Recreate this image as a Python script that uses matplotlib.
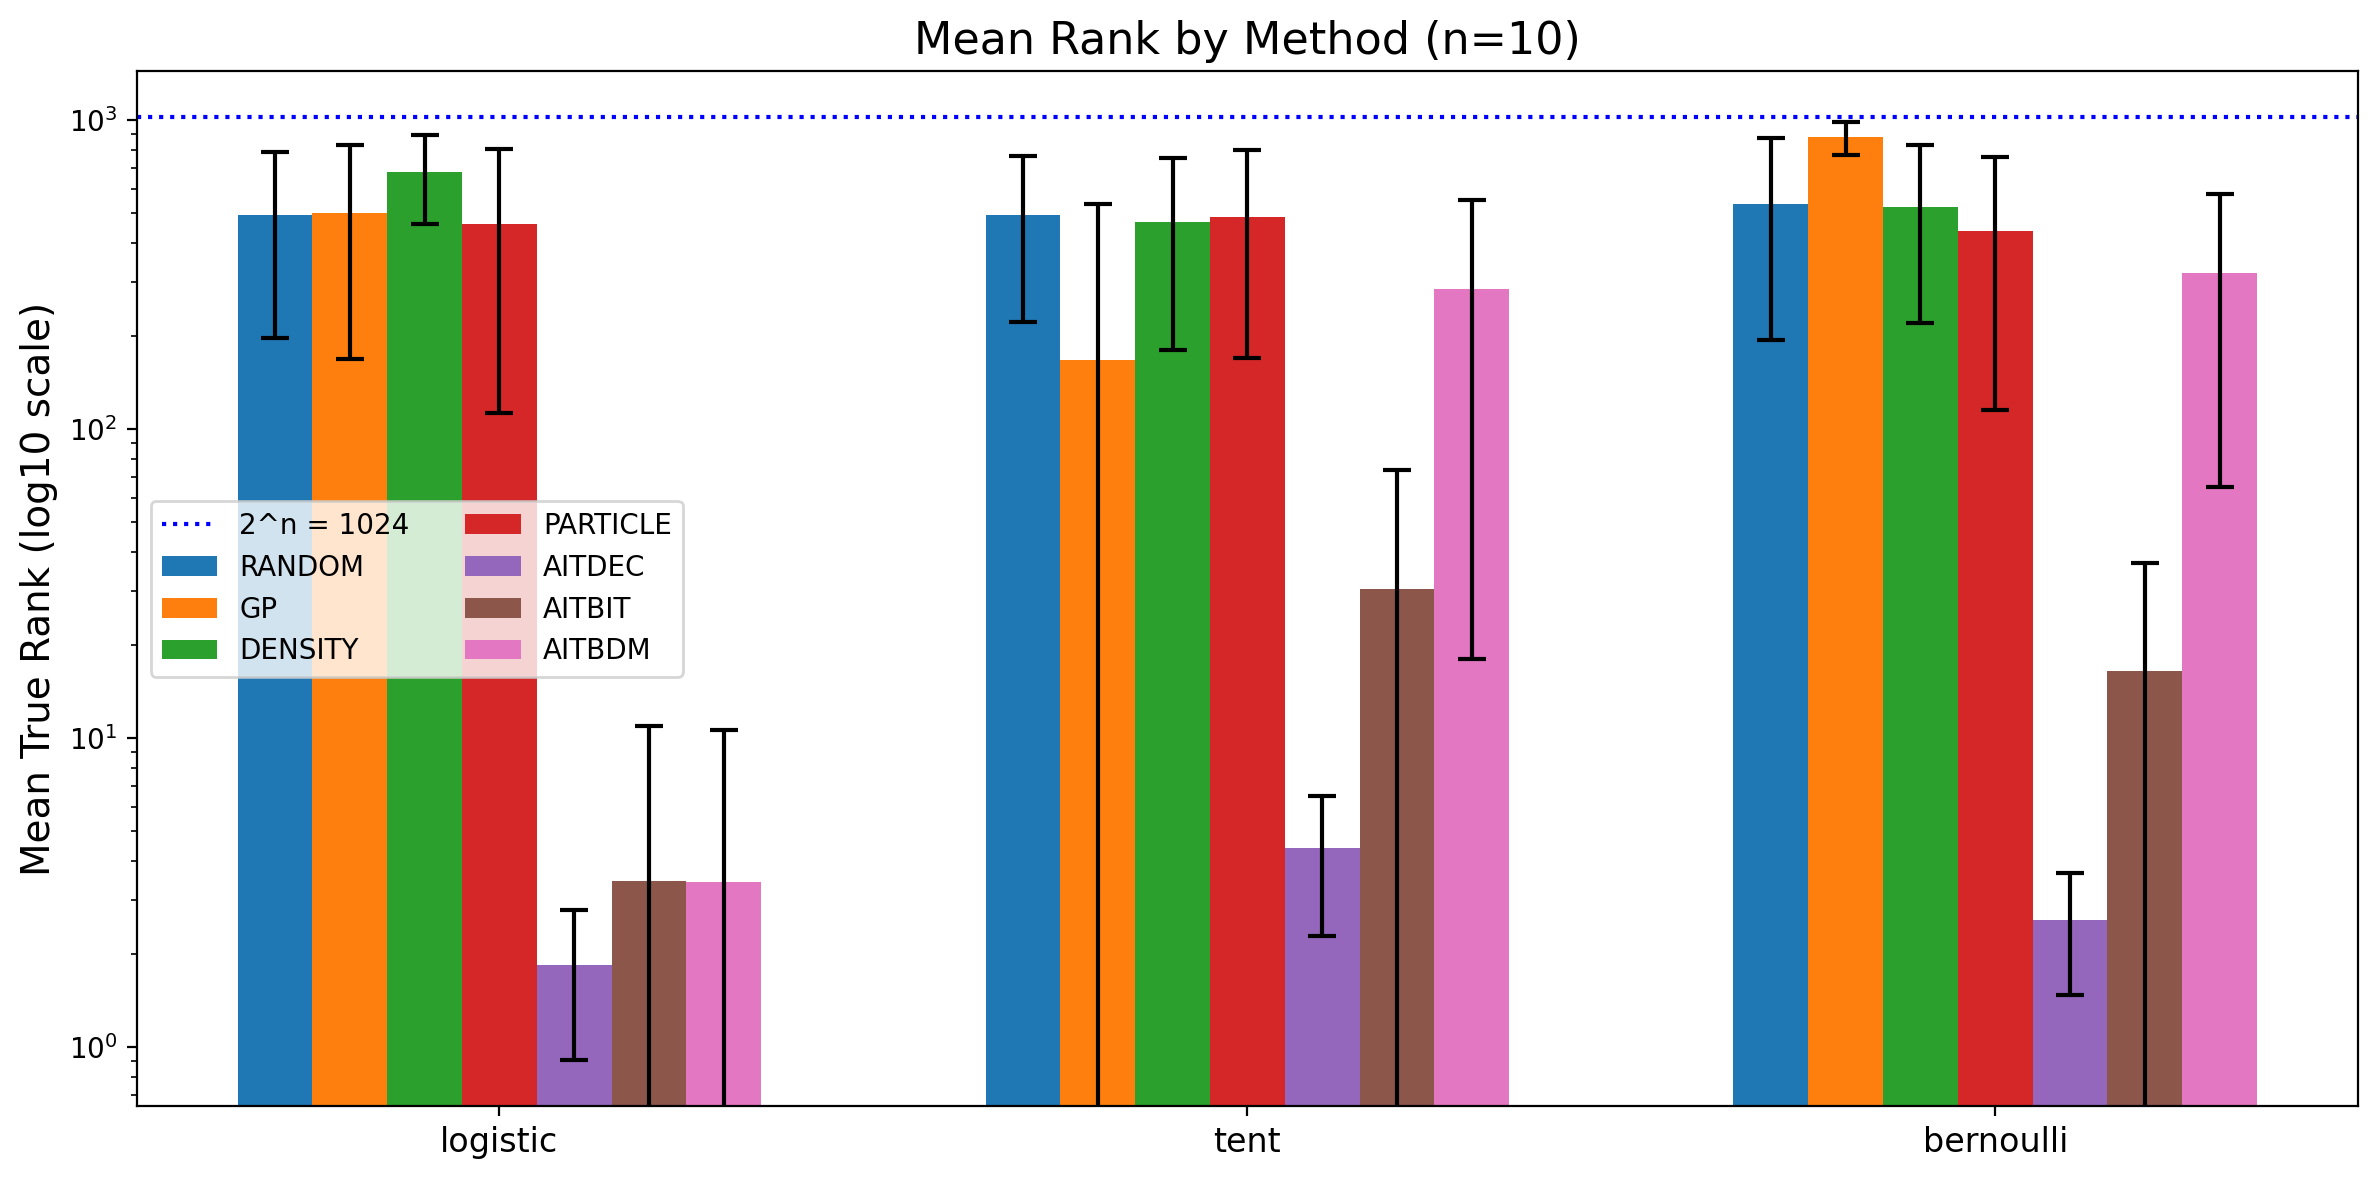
#!/usr/bin/env python3
import numpy as np
import matplotlib
matplotlib.use("Agg")
import matplotlib.pyplot as plt

maps = ["logistic", "tent", "bernoulli"]
methods = ["RANDOM", "GP", "DENSITY", "PARTICLE", "AITDEC", "AITBIT", "AITBDM"]

# mean true rank per method, one value per map (logistic, tent, bernoulli)
means = {
    "RANDOM":   [493, 495, 536],
    "GP":       [500, 168, 880],
    "DENSITY":  [679, 468, 526],
    "PARTICLE": [460, 485, 438],
    "AITDEC":   [1.84, 4.40, 2.57],
    "AITBIT":   [3.46, 30.5, 16.5],
    "AITBDM":   [3.41, 285, 321],
}
stds = {
    "RANDOM":   [296, 272, 341],
    "GP":       [331, 368, 108],
    "DENSITY":  [218, 288, 305],
    "PARTICLE": [347, 315, 323],
    "AITDEC":   [0.93, 2.12, 1.10],
    "AITBIT":   [7.45, 43.5, 20.4],
    "AITBDM":   [7.24, 267, 256],
}
n_bits = 10


def main():
    fig, ax = plt.subplots(figsize=(2377 / 200, 1179 / 200), dpi=200)

    ax.axhline(2 ** n_bits, color="blue", linestyle=":", linewidth=1.5,
               label=f"2^n = {2 ** n_bits}")

    x = np.arange(len(maps))
    width = 0.1
    for i, m in enumerate(methods):
        ax.bar(x + (i - 3) * width, means[m], width, yerr=stds[m],
               capsize=5, label=m,
               error_kw=dict(ecolor="black", elinewidth=1.5, capthick=1.5))

    ax.set_yscale("log")
    ax.set_ylim(0.642, 1447)
    ax.set_xticks(x)
    ax.set_xticklabels(maps, fontsize=12)
    ax.set_ylabel("Mean True Rank (log10 scale)", fontsize=14)
    ax.set_title("Mean Rank by Method (n=10)", fontsize=16)
    ax.legend(loc="center left", ncol=2, fontsize=10)

    fig.subplots_adjust(left=0.0575, right=0.992, top=0.940, bottom=0.0615)
    plt.savefig("out.png", dpi=200)


if __name__ == "__main__":
    main()
